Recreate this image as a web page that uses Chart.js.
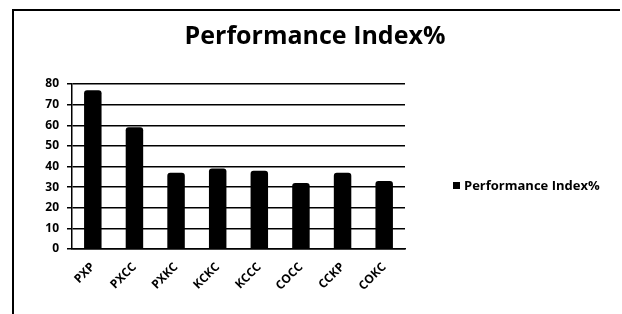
<!DOCTYPE html>
<html>
<head>
<meta charset="utf-8">
<script src="https://cdn.jsdelivr.net/npm/chart.js@4/dist/chart.umd.min.js"></script>
<style>
  html, body { margin: 0; padding: 0; background: #fff; }
  #wrap { width: 622px; height: 314px; }
</style>
</head>
<body>
<div id="wrap"><canvas id="perfChart" width="622" height="314"></canvas></div>
<script>
const categories = ['PXP', 'PXCC', 'PXKC', 'KCKC', 'KCCC', 'COCC', 'CCKP', 'COKC'];
const performance = [77, 59, 37, 39, 38, 32, 37, 33];
const yTicks = [0, 10, 20, 30, 40, 50, 60, 70, 80];
const seriesName = 'Performance Index%';

const fontFamily = '"Open Sans", "DejaVu Sans", sans-serif';

// frame lines, title and legend drawn by hand
const framePlugin = {
    id: 'frame',
    afterDraw(chart) {
        const c = chart.ctx;
        c.save();
        c.strokeStyle = '#000';
        c.lineWidth = 2;
        c.beginPath();
        c.moveTo(13, 314);
        c.lineTo(13, 10);
        c.lineTo(620, 10);
        c.stroke();

        c.fillStyle = '#000';
        c.textBaseline = 'middle';
        c.textAlign = 'center';
        c.font = 'bold 25px ' + fontFamily;
        c.fillText(seriesName, 315, 37);

        // legend
        c.textAlign = 'left';
        c.fillRect(453, 182, 7, 7);
        c.font = 'bold 13px ' + fontFamily;
        c.fillText(seriesName, 464, 186);
        c.restore();
    }
};

new Chart(document.getElementById('perfChart'), {
    type: 'bar',
    data: {
        labels: categories,
        datasets: [{
            label: seriesName,
            data: performance,
            backgroundColor: '#000',
            borderRadius: 3,
            barPercentage: 0.42,
            categoryPercentage: 1
        }]
    },
    options: {
        responsive: false,
        animation: false,
        layout: { padding: { left: 14, right: 217, top: 84, bottom: 0 } },
        plugins: {
            legend: { display: false },
            tooltip: { enabled: false },
            title: { display: false }
        },
        scales: {
            x: {
                afterFit: s => { s.height = 65; },
                grid: { display: false },
                border: { color: '#000', width: 1.5 },
                ticks: {
                    color: '#000',
                    maxRotation: 45,
                    minRotation: 45,
                    font: { family: fontFamily, size: 12, weight: 'bold' }
                }
            },
            y: {
                min: 0,
                max: 80,
                afterFit: s => { s.width = 58; },
                afterBuildTicks: s => { s.ticks = yTicks.map(v => ({ value: v })); },
                grid: { color: '#000', lineWidth: 1.5, tickLength: 5 },
                border: { color: '#000', width: 1.5 },
                ticks: {
                    color: '#000',
                    padding: 8,
                    font: { family: fontFamily, size: 12, weight: 'bold' }
                }
            }
        }
    },
    plugins: [framePlugin]
});
</script>
</body>
</html>
